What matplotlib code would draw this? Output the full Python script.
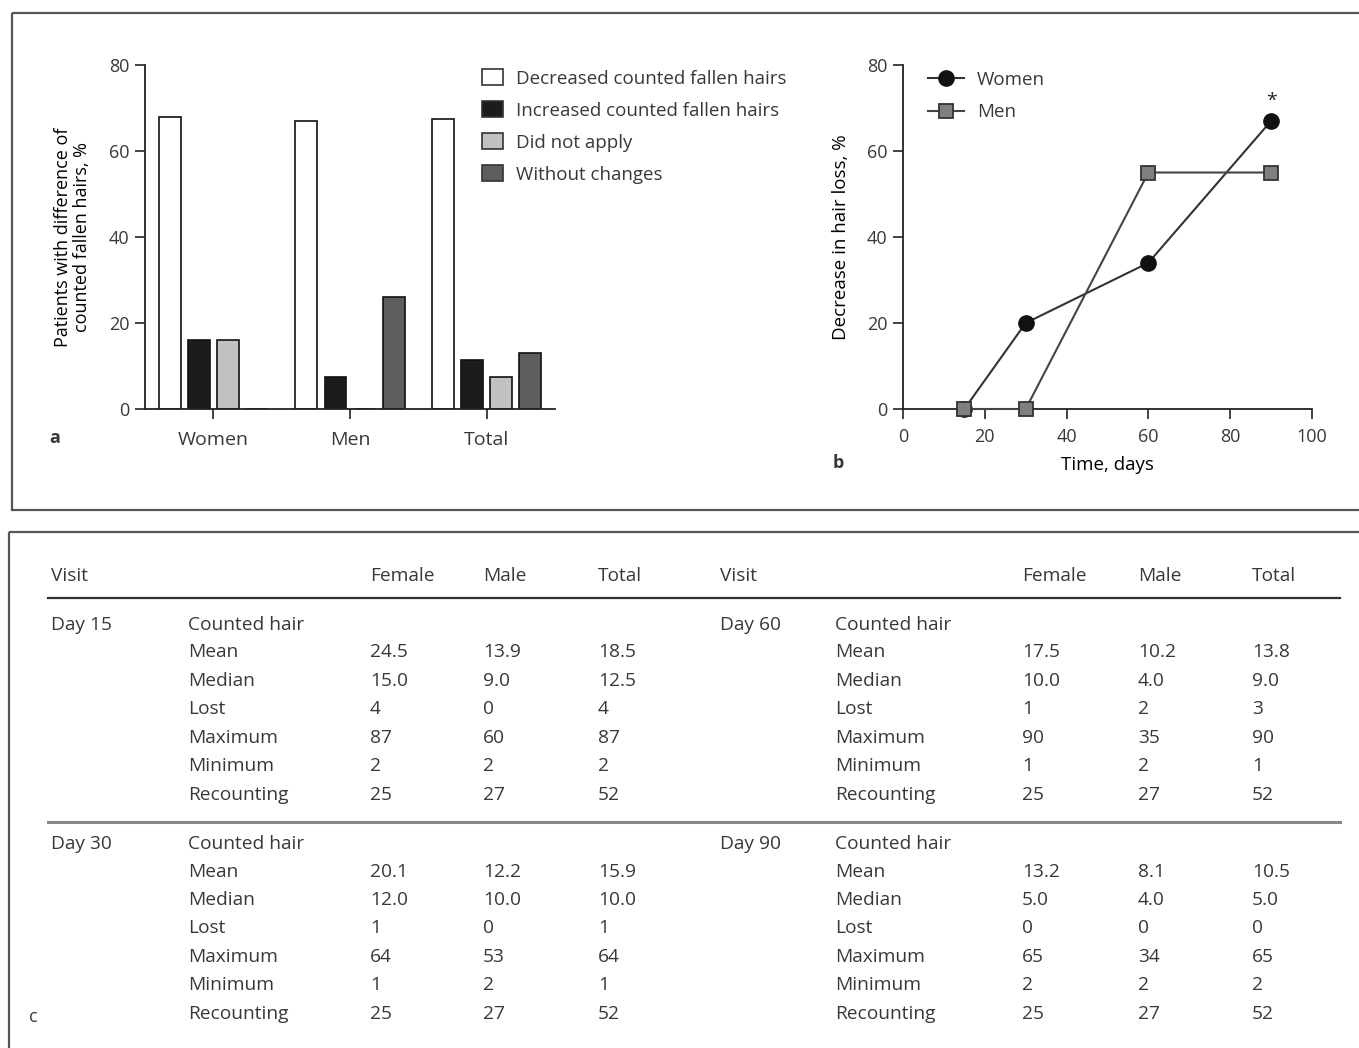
import numpy as np
import matplotlib
matplotlib.use("Agg")
import matplotlib.pyplot as plt
from matplotlib.patches import Patch, Rectangle

# --- panel a: share of patients per outcome ---
groups = ["Women", "Men", "Total"]
outcomes = ["Decreased counted fallen hairs", "Increased counted fallen hairs",
            "Did not apply", "Without changes"]
decreased = [68, 67, 67.5]
increased = [16, 7.5, 11.5]
not_apply = [16, 0, 7.5]
no_change = [0, 26, 13]
bar_colors = ["white", "#1c1c1c", "#c2c2c2", "#5e5e5e"]

# --- panel b: decrease in hair loss over time ---
days = [15, 30, 60, 90]
women_pct = [0, 20, 34, 67]
men_pct = [0, 0, 55, 55]

# --- panel c: counted hair table ---
col_heads = ["Female", "Male", "Total"]
stat_names = ["Mean", "Median", "Lost", "Maximum", "Minimum", "Recounting"]
day15 = [["24.5", "13.9", "18.5"], ["15.0", "9.0", "12.5"], ["4", "0", "4"],
         ["87", "60", "87"], ["2", "2", "2"], ["25", "27", "52"]]
day30 = [["20.1", "12.2", "15.9"], ["12.0", "10.0", "10.0"], ["1", "0", "1"],
         ["64", "53", "64"], ["1", "2", "1"], ["25", "27", "52"]]
day60 = [["17.5", "10.2", "13.8"], ["10.0", "4.0", "9.0"], ["1", "2", "3"],
         ["90", "35", "90"], ["1", "2", "1"], ["25", "27", "52"]]
day90 = [["13.2", "8.1", "10.5"], ["5.0", "4.0", "5.0"], ["0", "0", "0"],
         ["65", "34", "65"], ["2", "2", "2"], ["25", "27", "52"]]

W, H = 1359, 1048
TXT = "#383838"
plt.rcParams.update({"font.family": ["Open Sans", "DejaVu Sans"], "text.color": TXT,
                     "axes.edgecolor": "#222222", "xtick.color": "#222222",
                     "ytick.color": "#222222", "xtick.labelcolor": TXT,
                     "ytick.labelcolor": TXT})


def px(x0, y0, x1, y1):
    return [x0 / W, 1 - y1 / H, (x1 - x0) / W, (y1 - y0) / H]


fig = plt.figure(figsize=(W / 100, H / 100), dpi=100, facecolor="white")

# background layer in pixel coordinates for frames and the table
bg = fig.add_axes([0, 0, 1, 1], zorder=-1)
bg.set_xlim(0, W)
bg.set_ylim(H, 0)
bg.axis("off")
bg.add_patch(Rectangle((12, 13), W + 20, 497, fill=False, ec="#555555", lw=1.6))
bg.add_patch(Rectangle((9, 532), W + 20, 600, fill=False, ec="#555555", lw=1.6))


def style(ax):
    for s in ["top", "right"]:
        ax.spines[s].set_visible(False)
    ax.spines["left"].set_linewidth(1.3)
    ax.spines["bottom"].set_linewidth(1.3)
    ax.tick_params(direction="out", length=7, width=1.2, labelsize=13, pad=4)


# panel a
ax = fig.add_axes(px(145, 65, 555, 409))
x = np.arange(len(groups))
slot, bw = 0.213, 0.16
for i, (vals, col) in enumerate(zip([decreased, increased, not_apply, no_change], bar_colors)):
    ax.bar(x + (i - 1.5) * slot, vals, bw, color=col, edgecolor="#111111", lw=1.2,
           label=outcomes[i])
ax.set_xlim(-0.5, 2.5)
ax.set_ylim(0, 80)
ax.set_yticks([0, 20, 40, 60, 80])
ax.set_xticks(x)
style(ax)
ax.set_xticklabels(groups, fontsize=14)
ax.tick_params(axis="x", pad=9)
ax.set_ylabel("Patients with difference of\ncounted fallen hairs, %", fontsize=13,
              linespacing=1.1, labelpad=13)
handles = [Patch(facecolor=c, edgecolor="#333333", lw=1.2) for c in bar_colors]
ax.legend(handles, outcomes, loc="upper left", bbox_to_anchor=(482 / W, 1 - 69 / H),
          bbox_transform=fig.transFigure, frameon=False, fontsize=13.5,
          handlelength=1.1, handleheight=0.95, handletextpad=0.7, labelspacing=0.72,
          borderpad=0, borderaxespad=0)
fig.text(55 / W, 1 - 438 / H, "a", fontsize=13, fontweight="bold", ha="center", va="center")

# panel b
bx = fig.add_axes(px(903, 65, 1312, 409))
bx.plot(days, women_pct, color="#333333", lw=1.5, marker="o", ms=11,
        mfc="#111111", mec="#111111", label="Women", zorder=3, clip_on=False)
bx.plot(days, men_pct, color="#444444", lw=1.5, marker="s", ms=10.5,
        mfc="#7f7f7f", mec="#333333", mew=1.3, label="Men", zorder=4, clip_on=False)
bx.annotate("*", xy=(days[-1], women_pct[-1]), xytext=(0, 8), textcoords="offset points",
            ha="center", va="bottom", fontsize=14, color="#222222")
bx.set_xlim(0, 100)
bx.set_ylim(0, 80)
bx.set_xticks([0, 20, 40, 60, 80, 100])
bx.set_yticks([0, 20, 40, 60, 80])
style(bx)
bx.tick_params(axis="x", pad=7)
bx.set_xlabel("Time, days", fontsize=13.5, labelpad=7)
bx.set_ylabel("Decrease in hair loss, %", fontsize=13.5, labelpad=12)
bx.legend(loc="upper left", bbox_to_anchor=(928 / W, 1 - 71 / H),
          bbox_transform=fig.transFigure, frameon=False, fontsize=13.5,
          handlelength=1.9, handletextpad=0.7, labelspacing=0.75,
          borderpad=0, borderaxespad=0)
fig.text(838 / W, 1 - 463 / H, "b", fontsize=13, fontweight="bold", ha="center", va="center")

# panel c: table
fs = 13.8
bg.plot([48, 1340], [598, 598], color="#333333", lw=1.6)
bg.plot([48, 1340], [822, 822], color="#888888", lw=2.2)

row_y = [[625, 652, 681, 709, 738, 766, 795], [844, 872, 900, 928, 957, 985, 1014]]
blocks = [(51, 188, [370, 483, 598], ["Day 15", "Day 30"], [day15, day30]),
          (720, 835, [1022, 1138, 1252], ["Day 60", "Day 90"], [day60, day90])]
for xv, xl, xc, names, tables in blocks:
    bg.text(xv, 576, "Visit", fontsize=fs, va="center")
    for h, xx in zip(col_heads, xc):
        bg.text(xx, 576, h, fontsize=fs, va="center")
    for ys, name, tab in zip(row_y, names, tables):
        bg.text(xv, ys[0], name, fontsize=fs, va="center")
        bg.text(xl, ys[0], "Counted hair", fontsize=fs, va="center")
        for y, stat, vals in zip(ys[1:], stat_names, tab):
            bg.text(xl, y, stat, fontsize=fs, va="center")
            for v, xx in zip(vals, xc):
                bg.text(xx, y, v, fontsize=fs, va="center")
bg.text(33, 1017, "c", fontsize=13, va="center", ha="center")

fig.savefig("out.png", dpi=100, facecolor="white")
